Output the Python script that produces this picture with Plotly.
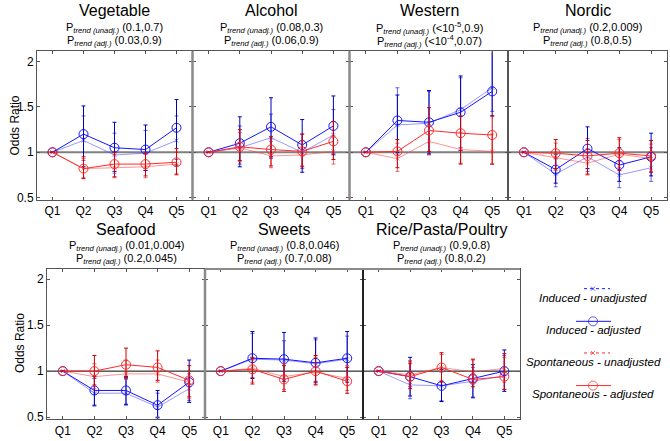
import plotly.graph_objects as go

# ---------------- data ----------------
PANELS = ["Vegetable", "Alcohol", "Western", "Nordic", "Seafood", "Sweets", "Rice/Pasta/Poultry"]
QUINTILES = ["Q1", "Q2", "Q3", "Q4", "Q5"]
Y_TICKS = [0.5, 1, 1.5, 2]
Y_TICK_LABELS = ["0.5", "1", "1.5", "2"]

P_UNADJ = {
    "Vegetable": "(0.1,0.7)", "Alcohol": "(0.08,0.3)", "Western": "(&lt;10<sup>-5</sup>,0.9)",
    "Nordic": "(0.2,0.009)", "Seafood": "(0.01,0.004)", "Sweets": "(0.8,0.046)",
    "Rice/Pasta/Poultry": "(0.9,0.8)",
}
P_ADJ = {
    "Vegetable": "(0.03,0.9)", "Alcohol": "(0.06,0.9)", "Western": "(&lt;10<sup>-4</sup>,0.07)",
    "Nordic": "(0.8,0.5)", "Seafood": "(0.2,0.045)", "Sweets": "(0.7,0.08)",
    "Rice/Pasta/Poultry": "(0.8,0.2)",
}

# Induced - adjusted
IND_ADJ = {
    "Vegetable": [1, 1.20, 1.05, 1.03, 1.27], "Alcohol": [1, 1.10, 1.28, 1.08, 1.29],
    "Western": [1, 1.35, 1.33, 1.44, 1.67], "Nordic": [1, 0.81, 1.04, 0.86, 0.95],
    "Seafood": [1, 0.79, 0.79, 0.63, 0.88], "Sweets": [1, 1.14, 1.13, 1.09, 1.14],
    "Rice/Pasta/Poultry": [1, 0.94, 0.84, 0.92, 1.00],
}
IND_ADJ_LO = {
    "Vegetable": [1, 0.84, 0.79, 0.80, 0.86], "Alcohol": [1, 0.84, 0.95, 0.78, 0.98],
    "Western": [1, 1.00, 0.98, 1.02, 1.40], "Nordic": [1, 0.66, 0.82, 0.68, 0.74],
    "Seafood": [1, 0.63, 0.64, 0.50, 0.66], "Sweets": [1, 0.92, 0.89, 0.88, 0.88],
    "Rice/Pasta/Poultry": [1, 0.73, 0.67, 0.71, 0.78],
}
IND_ADJ_HI = {
    "Vegetable": [1, 1.51, 1.33, 1.30, 1.58], "Alcohol": [1, 1.39, 1.60, 1.36, 1.62],
    "Western": [1, 1.63, 1.68, 1.84, 2.30], "Nordic": [1, 0.98, 1.28, 1.05, 1.21],
    "Seafood": [1, 0.94, 0.94, 0.79, 1.12], "Sweets": [1, 1.43, 1.42, 1.36, 1.43],
    "Rice/Pasta/Poultry": [1, 1.15, 1.02, 1.07, 1.23],
}
# Induced - unadjusted
IND_UNADJ = {
    "Vegetable": [1, 1.13, 0.97, 0.99, 1.13], "Alcohol": [1, 1.05, 1.16, 1.00, 1.19],
    "Western": [1, 1.30, 1.32, 1.47, 1.71], "Nordic": [1, 0.76, 0.95, 0.75, 0.83],
    "Seafood": [1, 0.76, 0.76, 0.61, 0.81], "Sweets": [1, 1.13, 1.12, 1.08, 1.13],
    "Rice/Pasta/Poultry": [1, 0.85, 0.84, 0.89, 0.95],
}
IND_UNADJ_LO = {
    "Vegetable": [1, 0.91, 0.77, 0.80, 0.92], "Alcohol": [1, 0.87, 0.93, 0.82, 0.97],
    "Western": [1, 0.98, 0.99, 1.05, 1.45], "Nordic": [1, 0.62, 0.79, 0.61, 0.68],
    "Seafood": [1, 0.62, 0.63, 0.49, 0.68], "Sweets": [1, 0.93, 0.91, 0.89, 0.91],
    "Rice/Pasta/Poultry": [1, 0.70, 0.68, 0.72, 0.80],
}
IND_UNADJ_HI = {
    "Vegetable": [1, 1.40, 1.21, 1.24, 1.40], "Alcohol": [1, 1.29, 1.42, 1.20, 1.47],
    "Western": [1, 1.71, 1.67, 1.82, 2.20], "Nordic": [1, 0.93, 1.15, 0.91, 1.05],
    "Seafood": [1, 0.92, 0.92, 0.76, 0.97], "Sweets": [1, 1.41, 1.33, 1.34, 1.38],
    "Rice/Pasta/Poultry": [1, 1.08, 0.99, 1.04, 1.17],
}
# Spontaneous - adjusted
SPO_ADJ = {
    "Vegetable": [1, 0.82, 0.87, 0.87, 0.89], "Alcohol": [1, 1.06, 1.03, 1.01, 1.12],
    "Western": [1, 1.01, 1.24, 1.21, 1.19], "Nordic": [1, 0.99, 0.96, 0.99, 0.96],
    "Seafood": [1, 1.00, 1.07, 1.04, 0.90], "Sweets": [1, 1.02, 0.91, 1.00, 0.89],
    "Rice/Pasta/Poultry": [1, 0.94, 1.04, 0.91, 0.94],
}
SPO_ADJ_LO = {
    "Vegetable": [1, 0.71, 0.73, 0.74, 0.76], "Alcohol": [1, 0.91, 0.85, 0.84, 0.92],
    "Western": [1, 0.83, 1.01, 0.87, 0.87], "Nordic": [1, 0.82, 0.76, 0.80, 0.78],
    "Seafood": [1, 0.85, 0.93, 0.90, 0.72], "Sweets": [1, 0.86, 0.78, 0.85, 0.76],
    "Rice/Pasta/Poultry": [1, 0.81, 0.88, 0.83, 0.80],
}
SPO_ADJ_HI = {
    "Vegetable": [1, 0.95, 1.00, 1.00, 1.04], "Alcohol": [1, 1.25, 1.17, 1.20, 1.34],
    "Western": [1, 1.14, 1.49, 1.40, 1.40], "Nordic": [1, 1.14, 1.13, 1.16, 1.13],
    "Seafood": [1, 1.17, 1.25, 1.22, 1.06], "Sweets": [1, 1.15, 1.06, 1.17, 1.04],
    "Rice/Pasta/Poultry": [1, 1.11, 1.20, 1.13, 1.19],
}
# Spontaneous - unadjusted
SPO_UNADJ = {
    "Vegetable": [1, 0.82, 0.83, 0.84, 0.87], "Alcohol": [1, 1.05, 0.96, 0.97, 1.01],
    "Western": [1, 0.93, 1.12, 1.03, 1.01], "Nordic": [1, 0.94, 0.88, 0.98, 0.93],
    "Seafood": [1, 0.94, 0.97, 0.97, 0.88], "Sweets": [1, 1.03, 0.94, 0.99, 0.92],
    "Rice/Pasta/Poultry": [1, 0.96, 1.04, 0.99, 1.03],
}
SPO_UNADJ_LO = {
    "Vegetable": [1, 0.72, 0.72, 0.72, 0.75], "Alcohol": [1, 0.90, 0.83, 0.85, 0.87],
    "Western": [1, 0.79, 0.97, 0.88, 0.87], "Nordic": [1, 0.80, 0.75, 0.83, 0.79],
    "Seafood": [1, 0.81, 0.91, 0.88, 0.70], "Sweets": [1, 0.88, 0.80, 0.86, 0.79],
    "Rice/Pasta/Poultry": [1, 0.83, 0.90, 0.86, 0.88],
}
SPO_UNADJ_HI = {
    "Vegetable": [1, 0.93, 0.97, 0.98, 1.00], "Alcohol": [1, 1.22, 1.12, 1.13, 1.18],
    "Western": [1, 1.10, 1.30, 1.22, 1.20], "Nordic": [1, 1.10, 1.04, 1.14, 1.09],
    "Seafood": [1, 1.08, 1.12, 1.12, 1.00], "Sweets": [1, 1.13, 1.08, 1.15, 1.06],
    "Rice/Pasta/Poultry": [1, 1.09, 1.18, 1.12, 1.15],
}

LEGEND_LABELS = ["Induced - unadjusted", "Induced - adjusted",
                 "Spontaneous - unadjusted", "Spontaneous - adjusted"]

# ---------------- layout geometry (page pixels) ----------------
W, H = 670, 441
PANEL_PX = {
    "Vegetable": (37, 192, 52, 202),
    "Alcohol": (193, 349, 52, 202),
    "Western": (350, 508, 52, 202),
    "Nordic": (508, 667, 52, 202),
    "Seafood": (47, 205, 272, 424),
    "Sweets": (205, 363, 272, 424),
    "Rice/Pasta/Poultry": (363, 520, 272, 424),
}
FONT = "Liberation Sans, Arial, sans-serif"
BLUE = "#1414ff"
BLUE_DARK = "#0000b4"
BLUE_LIGHT = "rgba(70,70,255,0.55)"
RED = "#ff2a2a"
RED_DARK = "#d00000"
RED_LIGHT = "rgba(255,60,60,0.55)"


def px2x(px):
    return px / W


def px2y(py):
    return 1 - py / H


fig = go.Figure()
X = [1, 2, 3, 4, 5]

SERIES = [
    (IND_UNADJ, IND_UNADJ_LO, IND_UNADJ_HI, BLUE_LIGHT, "rgba(40,40,230,0.7)", "x-thin-open", 4, 1),
    (IND_ADJ, IND_ADJ_LO, IND_ADJ_HI, BLUE, BLUE_DARK, "circle-open", 9, 1),
    (SPO_UNADJ, SPO_UNADJ_LO, SPO_UNADJ_HI, RED_LIGHT, "rgba(230,40,40,0.7)", "x-thin-open", 4, 1),
    (SPO_ADJ, SPO_ADJ_LO, SPO_ADJ_HI, RED, RED_DARK, "circle-open", 9, 1),
]

shapes = []
annotations = []
for i, name in enumerate(PANELS):
    n = i + 1
    xa = "x" if n == 1 else f"x{n}"
    ya = "y" if n == 1 else f"y{n}"
    for vals, lo, hi, col, ecol, sym, msize, lw in SERIES:
        v = vals[name]
        fig.add_trace(go.Scatter(
            x=X, y=v, xaxis=xa, yaxis=ya, mode="lines+markers", showlegend=False,
            line=dict(color=col, width=lw),
            marker=dict(symbol=sym, size=msize, color=col, line=dict(color=col, width=1)),
            error_y=dict(type="data", symmetric=False,
                         array=[h - a for h, a in zip(hi[name], v)],
                         arrayminus=[a - l for a, l in zip(v, lo[name])],
                         color=ecol, thickness=1, width=2),
        ))
    x0, x1, y0, y1 = PANEL_PX[name]
    top = y0 < 240
    common_x = dict(domain=[px2x(x0), px2x(x1)], range=[0.5, 5.5], tickvals=X,
                    ticktext=QUINTILES, ticks="inside", ticklen=3, mirror="allticks",
                    showline=True, linecolor="#555555", linewidth=1, showgrid=False,
                    zeroline=False, tickfont=dict(family=FONT, size=12, color="#000"),
                    anchor=ya, tickcolor="#555555")
    common_y = dict(domain=[px2y(y1), px2y(y0)], range=[0.478, 2.11], tickvals=Y_TICKS,
                    ticktext=Y_TICK_LABELS, ticks="inside", ticklen=3, mirror="allticks",
                    showline=True, linecolor="#555555", linewidth=1, showgrid=False,
                    zeroline=False, tickfont=dict(family=FONT, size=12, color="#000"),
                    anchor=xa, showticklabels=(name in ("Vegetable", "Seafood")),
                    tickcolor="#555555")
    fig.update_layout(**{("xaxis" if n == 1 else f"xaxis{n}"): common_x,
                         ("yaxis" if n == 1 else f"yaxis{n}"): common_y})
    # reference line at OR = 1
    shapes.append(dict(type="line", xref=f"{xa} domain", yref=ya, x0=0, x1=1, y0=1, y1=1,
                       line=dict(color="#808080" if top else "#000000", width=2 if top else 1),
                       layer="below"))
    cx = px2x((x0 + x1) / 2)
    ty = 11 if top else 232
    annotations.append(dict(text=name, x=cx, y=px2y(ty), xref="paper", yref="paper",
                            showarrow=False, xanchor="center", yanchor="middle",
                            font=dict(family=FONT, size=16, color="#000")))
    annotations.append(dict(text="P<sub><i>trend (unadj.)</i></sub> " + P_UNADJ[name],
                            x=cx, y=px2y(ty + 17), xref="paper", yref="paper",
                            showarrow=False, xanchor="center", yanchor="middle",
                            font=dict(family=FONT, size=11, color="#000")))
    annotations.append(dict(text="P<sub><i>trend (adj.)</i></sub> " + P_ADJ[name],
                            x=cx, y=px2y(ty + 30), xref="paper", yref="paper",
                            showarrow=False, xanchor="center", yanchor="middle",
                            font=dict(family=FONT, size=11, color="#000")))

# thick gray separators like the original
for (xs, ya0, ya1) in [(192.5, 52, 202), (349.5, 52, 202), (205, 272, 424)]:
    shapes.append(dict(type="line", xref="paper", yref="paper", x0=px2x(xs), x1=px2x(xs),
                       y0=px2y(ya1), y1=px2y(ya0), line=dict(color="#8a8a8a", width=2.5)))
shapes.append(dict(type="line", xref="paper", yref="paper", x0=px2x(205), x1=px2x(520),
                   y0=px2y(272), y1=px2y(272), line=dict(color="#8a8a8a", width=2)))
shapes.append(dict(type="line", xref="paper", yref="paper", x0=px2x(363), x1=px2x(363),
                   y0=px2y(424), y1=px2y(273), line=dict(color="#111111", width=1.5)))

# y axis titles
for py, px_ in [(127, 15), (347, 20)]:
    annotations.append(dict(text="Odds Ratio", x=px2x(px_), y=px2y(py), xref="paper",
                            yref="paper", showarrow=False, textangle=-90,
                            xanchor="center", yanchor="middle",
                            font=dict(family=FONT, size=12, color="#000")))

# ---------------- legend (drawn manually) ----------------
LEG_Y = [292, 325, 357, 390]
LEG_STYLE = [
    (BLUE, "dash", "x-thin-open", 4, 584, 610),
    (BLUE, "solid", "circle-open", 9, 576, 611),
    (RED, "dash", "x-thin-open", 4, 584, 610),
    (RED, "solid", "circle-open", 9, 576, 611),
]
for label, ly, (col, dash, sym, ms, lx0, lx1) in zip(LEGEND_LABELS, LEG_Y, LEG_STYLE):
    fig.add_trace(go.Scatter(x=[lx0, 593, lx1], y=[ly, ly, ly], xaxis="x8", yaxis="y8",
                             mode="lines+markers", showlegend=False, hoverinfo="skip",
                             line=dict(color=col, width=1, dash="dot" if dash == "dash" else "solid"),
                             marker=dict(symbol=sym, size=[0, ms, 0], color=col,
                                         line=dict(color=col, width=1))))
    annotations.append(dict(text=f"<i>{label}</i>", x=px2x(593), y=px2y(ly + 9),
                            xref="paper", yref="paper", showarrow=False,
                            xanchor="center", yanchor="middle",
                            font=dict(family=FONT, size=11.5, color="#000")))

fig.update_layout(
    xaxis8=dict(domain=[px2x(560), px2x(630)], range=[560, 630], visible=False, anchor="y8"),
    yaxis8=dict(domain=[px2y(400), px2y(280)], range=[400, 280], visible=False, anchor="x8"),
)

fig.update_layout(
    width=W, height=H, margin=dict(l=0, r=0, t=0, b=0),
    paper_bgcolor="white", plot_bgcolor="rgba(0,0,0,0)",
    shapes=shapes, annotations=annotations, showlegend=False,
)

# remove the default page margin so the 670x441 figure fills the window exactly
fig.write_html("out.html", config={"displayModeBar": False},
               post_script="document.body.style.margin='0px';document.body.style.overflow='hidden';")
